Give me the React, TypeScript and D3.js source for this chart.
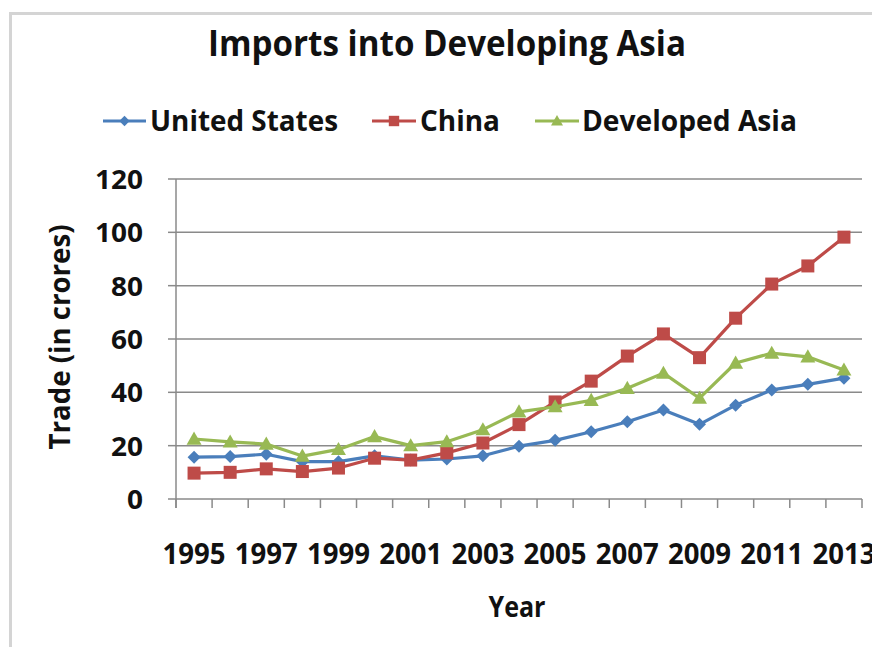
import React from "react";
import * as d3 from "d3";

const years = ["1995","1996","1997","1998","1999","2000","2001","2002","2003","2004","2005","2006","2007","2008","2009","2010","2011","2012","2013"];
const unitedStates = [15.7,15.9,16.8,14,14,16.2,14.6,15,16.2,19.8,22,25.2,29,33.4,28,35.2,40.9,43,45.3];
const china = [9.7,10,11.3,10.3,11.6,15.3,14.6,17.3,21,27.9,36.4,44.2,53.6,61.9,53,67.8,80.6,87.4,98.2];
const developedAsia = [22.5,21.4,20.6,16.1,18.6,23.4,20,21.5,26,32.7,34.6,37,41.5,47.2,37.8,51,54.7,53.3,48.4];
const yTicks = [0,20,40,60,80,100,120];
const seriesNames = ["United States","China","Developed Asia"];

const FONT = "'Open Sans', sans-serif";

export default function App() {
  const W = 872, H = 647;
  const left = 176, right = 862, top = 179, bottom = 499;
  const x = d3.scaleBand().domain(years).range([left, right]);
  const y = d3.scaleLinear().domain([0, 120]).range([bottom, top]);
  const cx = (yr: string) => (x(yr) as number) + x.bandwidth() / 2;

  const series = [
    { name: seriesNames[0], values: unitedStates, color: "#4A7EBB", marker: "diamond" },
    { name: seriesNames[1], values: china, color: "#BE4B48", marker: "square" },
    { name: seriesNames[2], values: developedAsia, color: "#98B954", marker: "triangle" },
  ];

  const line = d3.line<number>().x((_, i) => cx(years[i])).y((v) => y(v));

  const marker = (type: string, px: number, py: number, color: string, key: any, s = 1) => {
    if (type === "diamond") {
      const r = 6.5 * s;
      return <path key={key} d={`M${px},${py - r}L${px + r},${py}L${px},${py + r}L${px - r},${py}Z`} fill={color} />;
    }
    if (type === "square") {
      const r = 6.5 * s;
      return <rect key={key} x={px - r} y={py - r} width={2 * r} height={2 * r} fill={color} />;
    }
    const r = 7.5 * s;
    return <path key={key} d={`M${px},${py - r}L${px + r},${py + r * 0.75}L${px - r},${py + r * 0.75}Z`} fill={color} />;
  };

  const legendItems = [
    { x0: 103, x1: 146, tx: 150, tw: 188 },
    { x0: 372, x1: 416, tx: 420, tw: 80 },
    { x0: 535, x1: 579, tx: 582, tw: 215 },
  ];

  const boundaries = d3.range(years.length + 1).map((i) => left + i * x.step());

  return (
    <svg width={W} height={H} style={{ position: "absolute", left: 0, top: 0, background: "#fff" }} fontFamily={FONT}>
      <rect x={0} y={0} width={W} height={H} fill="#fff" />
      {/* outer frame */}
      <rect x={10.5} y={13.5} width={W + 20} height={H - 8} fill="none" stroke="#d4d4d4" strokeWidth={3} />
      {/* title */}
      <text x={447} y={56} textAnchor="middle" fontSize={36} fontWeight={700} fill="#111" textLength={478} lengthAdjust="spacingAndGlyphs">Imports into Developing Asia</text>
      {/* legend */}
      {series.map((s, i) => {
        const L = legendItems[i];
        const my = 121;
        return (
          <g key={s.name}>
            <line x1={L.x0} x2={L.x1} y1={my} y2={my} stroke={s.color} strokeWidth={3} />
            {marker(s.marker, (L.x0 + L.x1) / 2, my, s.color, "m", 0.8)}
            <text x={L.tx} y={131} fontSize={29} fontWeight={700} fill="#111" textLength={L.tw} lengthAdjust="spacingAndGlyphs">{s.name}</text>
          </g>
        );
      })}
      {/* gridlines */}
      {yTicks.filter((t) => t > 0).map((t) => (
        <line key={t} x1={left} x2={right} y1={y(t)} y2={y(t)} stroke="#8a8a8a" strokeWidth={1.5} />
      ))}
      {/* y axis */}
      <line x1={left} x2={left} y1={top} y2={bottom + 9} stroke="#8a8a8a" strokeWidth={1.5} />
      {yTicks.map((t) => (
        <g key={"yt" + t}>
          <line x1={left - 8} x2={left} y1={y(t)} y2={y(t)} stroke="#8a8a8a" strokeWidth={1.5} />
          <text x={143} y={y(t) + 10} textAnchor="end" fontSize={27} fontWeight={700} fill="#111" textLength={String(t).length * 16} lengthAdjust="spacingAndGlyphs">{t}</text>
        </g>
      ))}
      {/* x axis */}
      <line x1={left} x2={right} y1={bottom} y2={bottom} stroke="#8a8a8a" strokeWidth={1.5} />
      {boundaries.map((b, i) => (
        <line key={"xt" + i} x1={b} x2={b} y1={bottom} y2={bottom + 9} stroke="#8a8a8a" strokeWidth={1.5} />
      ))}
      {years.filter((_, i) => i % 2 === 0).map((yr) => (
        <text key={yr} x={cx(yr)} y={564} textAnchor="middle" fontSize={28} fontWeight={700} fill="#111" textLength={63} lengthAdjust="spacingAndGlyphs">{yr}</text>
      ))}
      {/* axis titles */}
      <text x={517} y={617} textAnchor="middle" fontSize={28} fontWeight={700} fill="#111" textLength={57} lengthAdjust="spacingAndGlyphs">Year</text>
      <text transform={`translate(70,337) rotate(-90)`} textAnchor="middle" fontSize={28} fontWeight={700} fill="#111" textLength={225} lengthAdjust="spacingAndGlyphs">Trade (in crores)</text>
      {/* series */}
      {series.map((s) => (
        <g key={s.name}>
          <path d={line(s.values) as string} fill="none" stroke={s.color} strokeWidth={3.2} strokeLinejoin="round" />
          {s.values.map((v, i) => marker(s.marker, cx(years[i]), y(v), s.color, i))}
        </g>
      ))}
    </svg>
  );
}
